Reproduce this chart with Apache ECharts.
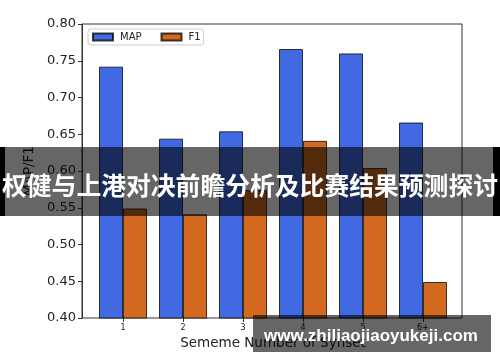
<!DOCTYPE html>
<html>
<head>
<meta charset="utf-8">
<script src="https://cdn.jsdelivr.net/npm/echarts@6/dist/echarts.min.js"></script>
<style>
html,body{margin:0;padding:0;background:#fff;}
#c{width:500px;height:362px;}
</style>
</head>
<body>
<div id="c"></div>
<script>
const categories = ['1', '2', '3', '4', '5', '6+'];
const mapValues = [0.742, 0.644, 0.654, 0.766, 0.760, 0.666];
const f1Values = [0.549, 0.541, 0.574, 0.641, 0.604, 0.449];
const seriesNames = ['MAP', 'F1'];
const yMin = 0.40, yMax = 0.80, yStep = 0.05;
const xAxisTitle = 'Sememe Number of Synset';
const yAxisTitle = 'MAP/F1';
const bannerText = '权健与上港对决前瞻分析及比赛结果预测探讨';
const watermarkText = 'www.zhiliaojiaoyukeji.com';

const chart = echarts.init(document.getElementById('c'), null, {renderer: 'canvas'});
const axisColor = '#333';
const font = 'DejaVu Sans';

chart.setOption({
  animation: false,
  backgroundColor: '#fff',
  grid: [
    {left: 82, right: 38, top: 24, bottom: 44, show: true, borderColor: axisColor, borderWidth: 1, backgroundColor: 'transparent'},
    {left: 93, right: 47, top: 24, bottom: 44}
  ],
  legend: {
    left: 88, top: 29,
    data: seriesNames,
    icon: 'rect',
    orient: 'horizontal',
    itemWidth: 20, itemHeight: 7, itemGap: 19,
    padding: [2, 3, 2, 4],
    borderColor: '#ccc', borderWidth: 1, borderRadius: 3,
    backgroundColor: 'rgba(255,255,255,0.8)',
    textStyle: {fontFamily: font, fontSize: 10, color: '#222', lineHeight: 12, padding: [0, 0, 0, 2]}
  },
  xAxis: [
    {type: 'value', gridIndex: 0, min: 0, max: 1, show: false},
    {
      type: 'category', gridIndex: 1, data: categories,
      axisLine: {show: false},
      axisTick: {show: true, alignWithLabel: true, length: 4, lineStyle: {color: axisColor}},
      axisLabel: {fontFamily: font, fontSize: 8, color: '#222', margin: 6},
      splitLine: {show: false},
      name: xAxisTitle, nameLocation: 'middle', nameGap: 18,
      nameTextStyle: {fontFamily: font, fontSize: 13.5, color: '#222'}
    }
  ],
  yAxis: [
    {
      type: 'value', gridIndex: 0, min: yMin, max: yMax, interval: yStep,
      axisLine: {show: true, lineStyle: {color: axisColor}},
      axisTick: {show: true, length: 4, lineStyle: {color: axisColor}},
      axisLabel: {fontFamily: font, fontSize: 13, color: '#222', margin: 6, formatter: v => v.toFixed(2)},
      splitLine: {show: false},
      name: yAxisTitle, nameLocation: 'middle', nameGap: 43, nameRotate: 90,
      nameTextStyle: {fontFamily: font, fontSize: 13.5, color: '#222'}
    },
    {type: 'value', gridIndex: 1, min: yMin, max: yMax, show: false}
  ],
  series: [
    {
      name: seriesNames[0], type: 'bar', xAxisIndex: 1, yAxisIndex: 1,
      data: mapValues, barWidth: 24, barGap: '0%',
      itemStyle: {color: '#4169E1', borderColor: 'rgba(0,0,0,0.75)', borderWidth: 1}
    },
    {
      name: seriesNames[1], type: 'bar', xAxisIndex: 1, yAxisIndex: 1,
      data: f1Values, barWidth: 24, barGap: '0%',
      itemStyle: {color: '#D2691E', borderColor: 'rgba(0,0,0,0.75)', borderWidth: 1}
    }
  ],
  graphic: [
    {type: 'rect', z: 100, shape: {x: 0, y: 147, width: 500, height: 69}, style: {fill: 'rgba(0,0,0,0.6)'}},
    {type: 'rect', z: 101, shape: {x: 0, y: 147, width: 5, height: 69}, style: {fill: '#000'}},
    {type: 'rect', z: 101, shape: {x: 493, y: 147, width: 7, height: 69}, style: {fill: '#000'}},
    {type: 'text', z: 102, x: 250, y: 186, style: {text: bannerText, fill: '#fff', font: 'bold 24.8px "Noto Sans CJK SC"', textAlign: 'center', textVerticalAlign: 'middle'}},
    {type: 'rect', z: 100, shape: {x: 253, y: 315, width: 238, height: 37}, style: {fill: 'rgba(0,0,0,0.6)'}},
    {type: 'text', z: 102, x: 371, y: 336, style: {text: watermarkText, fill: '#fff', font: 'bold 17px "Liberation Sans"', textAlign: 'center', textVerticalAlign: 'middle'}}
  ]
});
</script>
</body>
</html>
